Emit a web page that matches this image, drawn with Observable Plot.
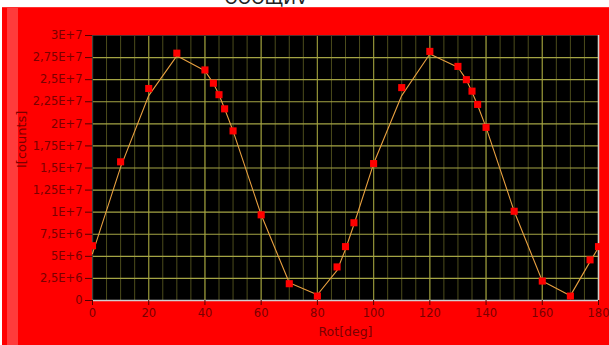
<!DOCTYPE html>
<html><head><meta charset="utf-8">
<script src="https://cdn.jsdelivr.net/npm/d3@7"></script>
<script src="https://cdn.jsdelivr.net/npm/@observablehq/plot@0.6"></script>
<style>
body{margin:0;background:#fff;width:609px;height:345px;overflow:hidden;position:relative;font-family:"DejaVu Sans",sans-serif}
#title{position:absolute;top:-12px;left:215px;width:102px;text-align:center;font-size:17px;color:#222;white-space:nowrap}
#panel{position:absolute;left:2px;top:7px;width:607px;height:338px;background:#ff0000}
#topline{position:absolute;left:0;top:0;width:607px;height:1px;background:#ff3030}
#band{position:absolute;left:5px;top:1px;width:11px;height:337px;background:#ff3b3b}
#chart{position:absolute;left:0;top:0}
</style></head>
<body>
<div id="title">ОООЩИV</div>
<div id="panel"><div id="topline"></div><div id="band"></div><div id="chart"></div></div>
<script>
const angles   = [0,10,20,30,40,43,45,47,50,60,70,80,87,90,93,100,110,120,130,133,135,137,140,150,160,170,177,180];
const measured = [6.2e6,15.7e6,24.0e6,28.0e6,26.1e6,24.6e6,23.3e6,21.7e6,19.2e6,9.7e6,1.9e6,0.5e6,3.8e6,6.1e6,8.8e6,15.5e6,24.1e6,28.2e6,26.5e6,25.0e6,23.7e6,22.2e6,19.6e6,10.1e6,2.2e6,0.5e6,4.6e6,6.1e6];
const fitted   = [5.3e6,15.1e6,23.2e6,27.7e6,26.0e6,24.6e6,23.3e6,21.7e6,19.2e6,9.7e6,2.0e6,0.65e6,3.4e6,5.8e6,8.6e6,15.5e6,23.2e6,27.9e6,26.4e6,25.0e6,23.6e6,22.1e6,19.6e6,10.1e6,2.2e6,0.55e6,4.4e6,6.0e6];
const xTicks = [0,20,40,60,80,100,120,140,160,180];
const xMinor = [0,5,10,15,20,25,30,35,40,45,50,55,60,65,70,75,80,85,90,95,100,105,110,115,120,125,130,135,140,145,150,155,160,165,170,175,180];
const yTicks = [0,2.5e6,5e6,7.5e6,1e7,1.25e7,1.5e7,1.75e7,2e7,2.25e7,2.5e7,2.75e7,3e7];
const yTickLabels = ["0","2,5E+6","5E+6","7,5E+6","1E+7","1,25E+7","1,5E+7","1,75E+7","2E+7","2,25E+7","2,5E+7","2,75E+7","3E+7"];
const xLabel = "Rot[deg]";
const yLabel = "I[counts]";

const line = angles.map((a,i)=>({x:a,y:fitted[i]}));
const pts = angles.map((a,i)=>({x:a,y:measured[i]}));
const txt = "#7a0000";

const chart = Plot.plot({
  width:607, height:338,
  marginLeft:90, marginRight:11, marginTop:28, marginBottom:45,
  style:{background:"transparent", fontFamily:"DejaVu Sans, sans-serif", fontSize:"11.5px", color:txt},
  x:{domain:[0,180]},
  y:{domain:[0,3e7]},
  marks:[
    Plot.frame({fill:"black", stroke:"none"}),
    Plot.ruleX(xMinor,{stroke:"#4c4c1c", strokeWidth:1}),
    Plot.ruleX(xTicks,{stroke:"#8e8e36", strokeWidth:1.2}),
    Plot.ruleY(yTicks,{stroke:"#a4a444", strokeWidth:1.2}),
    Plot.ruleY([3e7],{stroke:"#503030"}),
    Plot.ruleX([0],{stroke:"#404040"}),
    Plot.ruleY([0],{stroke:"#d0d0d0", strokeWidth:1.5}),
    Plot.ruleX([180],{stroke:"#d0d0d0", strokeWidth:1.5}),
    Plot.line(line,{x:"x", y:"y", stroke:"#e8a040", strokeWidth:1.1}),
    Plot.dot(pts,{x:"x", y:"y", symbol:"square", r:4, fill:"#ff0000", stroke:"none"}),
    Plot.axisX({ticks:xTicks, tickSize:5, tickPadding:3, label:null, stroke:"#500000", fill:txt, fontSize:11.5}),
    Plot.axisY({ticks:yTicks, tickSize:7, tickPadding:3, label:null, stroke:"#500000", fill:txt, fontSize:11.5,
      tickFormat:d=>yTickLabels[yTicks.indexOf(d)]}),
    Plot.text([xLabel],{frameAnchor:"bottom", text:d=>d, dy:35, fill:txt, fontSize:12.5}),
    Plot.text([yLabel],{frameAnchor:"left", text:d=>d, rotate:-90, dx:-71, fill:txt, fontSize:13})
  ]
});
document.getElementById("chart").appendChild(chart);
</script>
</body></html>
